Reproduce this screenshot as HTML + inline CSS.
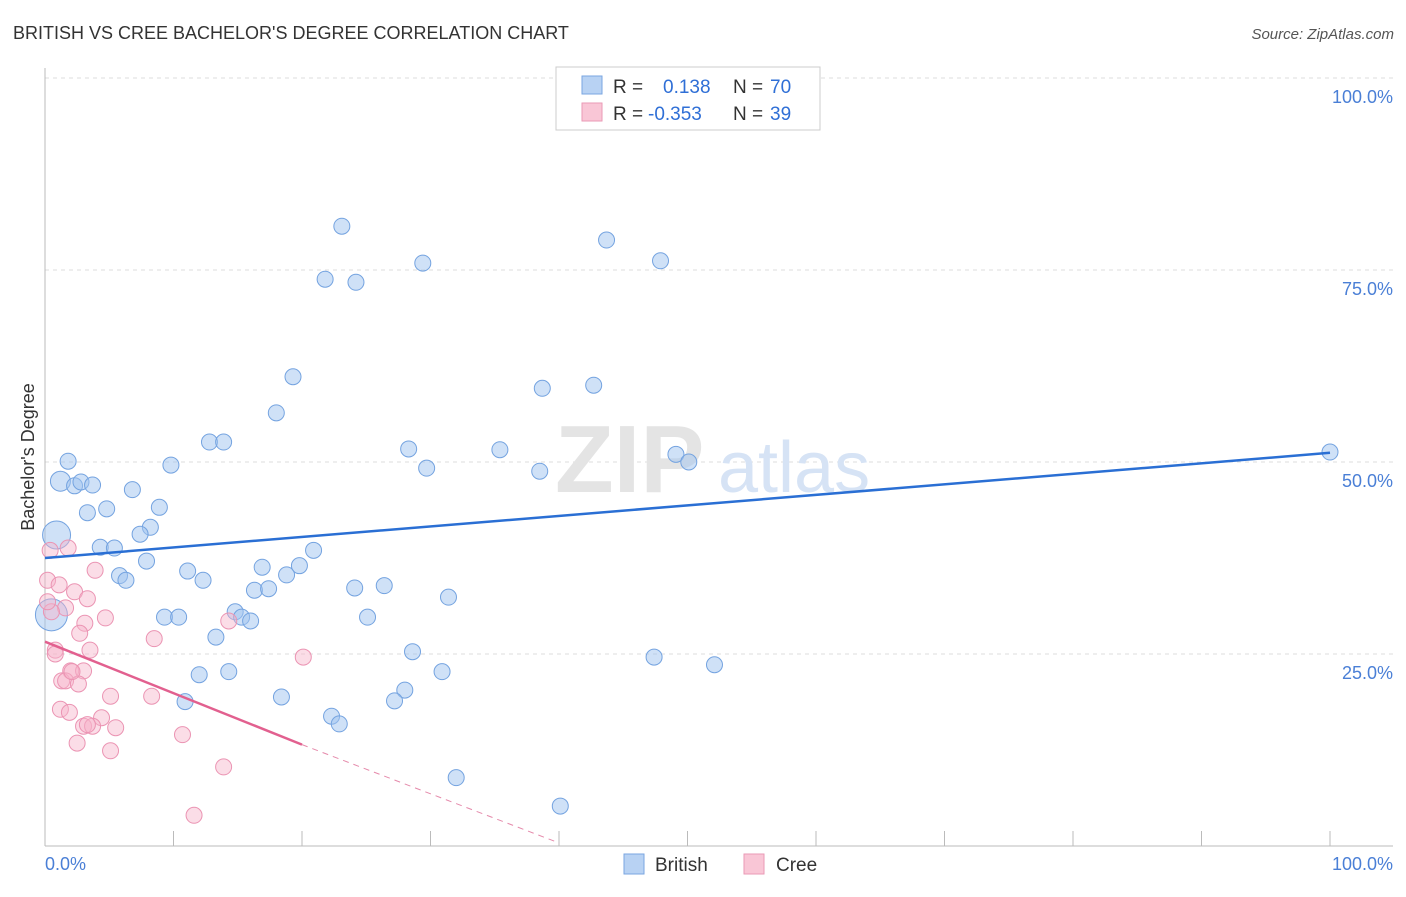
<!DOCTYPE html>
<html><head><meta charset="utf-8"><style>
body{margin:0;background:#fff;font-family:"Liberation Sans",sans-serif;}
svg text{font-family:"Liberation Sans",sans-serif;}
</style></head><body>
<svg width="1406" height="892" viewBox="0 0 1406 892">
<text x="13" y="39" font-size="18" fill="#333">BRITISH VS CREE BACHELOR'S DEGREE CORRELATION CHART</text>
<text x="1394" y="39" font-size="15" fill="#555" font-style="italic" text-anchor="end">Source: ZipAtlas.com</text>
<g id="grid"></g>
<text x="555" y="492" font-size="96" fill="#e4e4e4" font-family="Liberation Serif" font-weight="bold">ZIP</text>
<text x="718" y="492" font-size="72" fill="#d6e3f5">atlas</text>
<g id="pts"></g>
<g id="lines"></g>
<text transform="translate(34,457) rotate(-90)" font-size="18" fill="#333" text-anchor="middle">Bachelor's Degree</text>
<text x="45" y="870" font-size="18" fill="#4a7fd6">0.0%</text>
<text x="1393" y="870" font-size="18" fill="#4a7fd6" text-anchor="end">100.0%</text>
<g>
<rect x="556" y="67" width="264" height="63" fill="#fff" stroke="#ccc"/>
<rect x="582" y="76" width="20" height="18" fill="#b8d2f3" stroke="#7aa6e0"/>
<rect x="582" y="103" width="20" height="18" fill="#f9c6d6" stroke="#ea9ab6"/>
<text x="613" y="93" font-size="19" fill="#333">R =</text>
<text x="663" y="93" font-size="19" fill="#2f6fd6">0.138</text>
<text x="733" y="93" font-size="19" fill="#333">N =</text>
<text x="770" y="93" font-size="19" fill="#2f6fd6">70</text>
<text x="613" y="120" font-size="19" fill="#333">R =</text>
<text x="648" y="120" font-size="19" fill="#2f6fd6">-0.353</text>
<text x="733" y="120" font-size="19" fill="#333">N =</text>
<text x="770" y="120" font-size="19" fill="#2f6fd6">39</text>
</g>
<g>
<rect x="624" y="854" width="20" height="20" fill="#b8d2f3" stroke="#7aa6e0"/>
<text x="655" y="871" font-size="19" fill="#333">British</text>
<rect x="744" y="854" width="20" height="20" fill="#f9c6d6" stroke="#ea9ab6"/>
<text x="776" y="871" font-size="19" fill="#333">Cree</text>
</g>
</svg>
<script>
const yTicks=[25,50,75,100];
const yTickLabels=["25.0%","50.0%","75.0%","100.0%"];
const xTicks=[0,10,20,30,40,50,60,70,80,90,100];
const britishX=[23.1,43.7,47.9,21.8,24.2,29.4,19.3,18.0,38.7,42.7,12.8,13.9,28.3,35.4,49.1,50.1,29.7,38.5,100,9.8,1.8,1.2,2.3,2.8,3.7,6.8,3.3,4.8,8.9,8.2,7.4,0.9,4.3,5.4,20.9,7.9,5.8,6.3,11.1,12.3,16.9,18.8,19.8,16.3,17.4,24.1,26.4,31.4,0.5,9.3,10.4,14.8,15.3,16.0,25.1,13.3,28.6,47.4,52.1,12.0,14.3,30.9,18.4,28.0,27.2,10.9,22.3,22.9,32.0,40.1];
const britishY=[80.7,78.9,76.2,73.8,73.4,75.9,61.1,56.4,59.6,60.0,52.6,52.6,51.7,51.6,51.0,50.0,49.2,48.8,51.3,49.6,50.1,47.5,46.9,47.4,47.0,46.4,43.4,43.9,44.1,41.5,40.6,40.5,38.9,38.8,38.5,37.1,35.2,34.6,35.8,34.6,36.3,35.3,36.5,33.3,33.5,33.6,33.9,32.4,30.1,29.8,29.8,30.5,29.8,29.3,29.8,27.2,25.3,24.6,23.6,22.3,22.7,22.7,19.4,20.3,18.9,18.8,16.9,15.9,8.9,5.2];
const creeX=[0.4,1.8,3.9,0.2,1.1,2.3,3.3,1.6,0.5,4.7,3.1,14.3,2.7,8.5,0.8,3.5,20.1,2.0,3.0,1.3,1.6,2.6,5.1,8.3,1.2,1.9,4.4,3.0,3.7,5.5,10.7,2.5,5.1,13.9,11.6,0.2,2.1,0.8,3.3];
const creeY=[38.5,38.8,35.9,34.6,34.0,33.1,32.2,31.0,30.5,29.7,29.0,29.3,27.7,27.0,25.5,25.5,24.6,22.8,22.8,21.5,21.5,21.1,19.5,19.5,17.8,17.4,16.7,15.6,15.6,15.4,14.5,13.4,12.4,10.3,4.0,31.8,22.7,25.0,15.8];
const blueTrend=[[0,37.5],[100,51.2]];
const pinkTrend=[[0,26.6],[20,13.2],[40,0.4]];
const NS="http://www.w3.org/2000/svg";
const X=v=>45+v*12.85, Y=v=>846-v*7.68;
function mk(t,a,p){const e=document.createElementNS(NS,t);for(const k in a)e.setAttribute(k,a[k]);p.appendChild(e);return e;}
const g=document.getElementById('grid');
yTicks.forEach((t,i)=>{
 const l=mk('line',{x1:45,x2:1393,y1:Y(t),y2:Y(t),stroke:'#ddd','stroke-dasharray':'4,4'},g);
 
 
 const tx=mk('text',{x:1393,y:Y(t)+25,'font-size':18,fill:'#4a7fd6','text-anchor':'end'},g);
 tx.textContent=yTickLabels[i];
 
 
});
const ax=mk('line',{x1:45,x2:1393,y1:846,y2:846,stroke:'#bbb'},g);


const ay=mk('line',{x1:45,x2:45,y1:68,y2:846,stroke:'#bbb'},g);


xTicks.forEach(t=>{
 const l=mk('line',{x1:X(t),x2:X(t),y1:831,y2:846,stroke:'#bbb'},g);
 
 
});
const p=document.getElementById('pts');
britishX.forEach((x,i)=>{
 let r=8; if(i==31)r=14; if(i==48)r=16; if(i==21)r=10;
 const c=mk('circle',{cx:X(x),cy:Y(britishY[i]),r:r,fill:'rgba(160,195,240,0.5)',stroke:'#74a3e0','stroke-width':1},p);
 
 
});
creeX.forEach((x,i)=>{
 const c=mk('circle',{cx:X(x),cy:Y(creeY[i]),r:8,fill:'rgba(246,180,202,0.45)',stroke:'#eb94b3','stroke-width':1},p);
 
 
});
const L=document.getElementById('lines');
const b=mk('line',{x1:X(blueTrend[0][0]),y1:Y(blueTrend[0][1]),x2:X(blueTrend[1][0]),y2:Y(blueTrend[1][1]),stroke:'#2a6fd4','stroke-width':2.5},L);


const pk=mk('line',{x1:X(pinkTrend[0][0]),y1:Y(pinkTrend[0][1]),x2:X(pinkTrend[1][0]),y2:Y(pinkTrend[1][1]),stroke:'#e2608f','stroke-width':2.5},L);


const pd=mk('line',{x1:X(pinkTrend[1][0]),y1:Y(pinkTrend[1][1]),x2:X(pinkTrend[2][0]),y2:Y(pinkTrend[2][1]),stroke:'#e58aab','stroke-width':1,'stroke-dasharray':'6,5'},L);


</script>
</body></html>
